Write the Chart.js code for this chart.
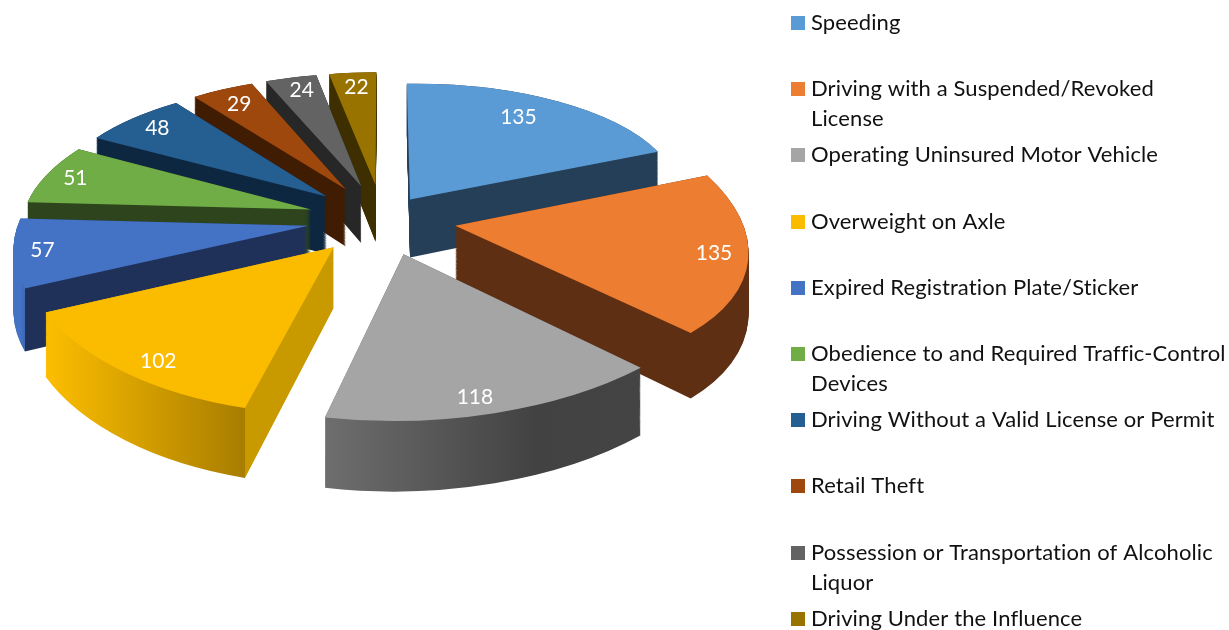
<!DOCTYPE html>
<html>
<head>
<meta charset="utf-8">
<style>html,body{margin:0;padding:0;background:#fff}canvas{display:block}</style>
<script src="https://cdn.jsdelivr.net/npm/chart.js@4"></script>
</head>
<body>
<canvas id="c" width="1229" height="630"></canvas>
<script>
const categories = ["Speeding","Driving with a Suspended/Revoked License","Operating Uninsured Motor Vehicle","Overweight on Axle","Expired Registration Plate/Sticker","Obedience to and Required Traffic-Control Devices","Driving Without a Valid License or Permit","Retail Theft","Possession or Transportation of Alcoholic Liquor","Driving Under the Influence"];
const counts = [135,135,118,102,57,51,48,29,24,22];
const topColors = ["#5b9bd5","#ed7d31","#a5a5a5","#fbbc00","#4472c4","#70ad47","#255e91","#9e480e","#636363","#997300"];
const rimShades = [["#253f59"],["#5f2f13"],["#6e6e6e","#585858","#424242","#444444"],["#fdbe00","#a87d00"],["#4472c4","#3f68b5"],["#2d441c"],["#0e2740"],["#3f1c02"],["#272727"],["#3d2f00"]];
const sideShades = ["#253f59","#5f2f13","#444444","#c99a00","#1f3158","#2d441c","#0e2740","#3f1c02","#272727","#3d2f00"];
const explosions = [0.175,0.255,0.26,0.26,0.26,0.26,0.26,0.26,0.26,0.26];
const labelNudgeX = [-13,6,-10,7,-13,-8,-1,1,2,1];
const labelNudgeY = [3,4,7,9,1,-1,0,2,-1,0];
const camera = {cx:382.5, cy:219, ax:289, ay:136, persp:0.133, depth:59};
const labelRadius = 0.86;
const legendBox = {swatchX:791, swatch:14, textX:811, firstY:23, pitch:66.2, lineH:30, maxW:418};
const labelFont = '21px Lato', legendFont = '22px Lato';

function project(u,v,t){
  const w = 1/(1-camera.persp*v);
  return [camera.cx+camera.ax*u*w, camera.cy+camera.ay*v*w+t*camera.depth*w];
}
function sliceInfo(arc,i){
  const mid=(arc.startAngle+arc.endAngle)/2, e=explosions[i];
  return {mid, eu:e*Math.cos(mid), ev:e*Math.sin(mid)};
}
function applyAffine(ctx,arc,s,t){
  const R=arc.outerRadius, c0=[s.eu,s.ev];
  const cs=Math.cos(arc.startAngle), ss=Math.sin(arc.startAngle), ce=Math.cos(arc.endAngle), se=Math.sin(arc.endAngle);
  const S0=project(c0[0],c0[1],t), S1=project(c0[0]+cs,c0[1]+ss,t), S2=project(c0[0]+ce,c0[1]+se,t);
  const a1=[S1[0]-S0[0],S1[1]-S0[1]], a2=[S2[0]-S0[0],S2[1]-S0[1]];
  const d1=[R*cs,R*ss], d2=[R*ce,R*se];
  const det=d1[0]*d2[1]-d2[0]*d1[1];
  const i11=d2[1]/det,i12=-d2[0]/det,i21=-d1[1]/det,i22=d1[0]/det;
  const a=a1[0]*i11+a2[0]*i21, c=a1[0]*i12+a2[0]*i22, b=a1[1]*i11+a2[1]*i21, d=a1[1]*i12+a2[1]*i22;
  const e=S0[0]-a*arc.x-c*arc.y, f=S0[1]-b*arc.x-d*arc.y;
  ctx.transform(a,b,c,d,e,f);
}
function paint(ctx,arc,color){
  const o=arc.options, tmp=Object.create(o);
  tmp.backgroundColor=color; tmp.borderWidth=0;
  arc.options=tmp; arc.draw(ctx); arc.options=o;
}
const pie3d={
  id:'pie3d',
  beforeDatasetsDraw(chart){
    const ctx=chart.ctx, W=chart.width, H=chart.height;
    const arcs=chart.getDatasetMeta(0).data;
    const order=arcs.map((a,i)=>{
      const s=sliceInfo(a,i);
      return {a,i,s,key:s.ev+0.6*Math.sin(s.mid)};
    }).sort((p,q)=>p.key-q.key);
    for(const {a,i,s} of order){
      const off=document.createElement('canvas'); off.width=W; off.height=H;
      const oc=off.getContext('2d');
      const N=70;
      for(let k=N;k>=0;k--){
        oc.save(); applyAffine(oc,a,s,k/N); paint(oc,a,'#000'); oc.restore();
      }
      const p1=project(s.eu+Math.cos(a.startAngle),s.ev+Math.sin(a.startAngle),1);
      const p2=project(s.eu+Math.cos(a.endAngle),s.ev+Math.sin(a.endAngle),1);
      const xL=Math.max(0,Math.min(p1[0],p2[0])), xR=Math.min(W,Math.max(p1[0],p2[0]));
      const g=oc.createLinearGradient(0,0,W,0), rim=rimShades[i];
      rim.forEach((c,n)=>g.addColorStop((xL+(xR-xL)*(rim.length>1?n/(rim.length-1):0))/W,c));
      g.addColorStop(xR/W,rim[rim.length-1]);
      g.addColorStop(Math.min(1,xR/W+0.0005),sideShades[i]);
      g.addColorStop(1,sideShades[i]);
      oc.globalCompositeOperation='source-atop';
      oc.fillStyle=g; oc.fillRect(0,0,W,H);
      ctx.drawImage(off,0,0);
      ctx.save(); applyAffine(ctx,a,s,0); paint(ctx,a,topColors[i]); ctx.restore();
    }
    return false;
  },
  afterDraw(chart){
    const ctx=chart.ctx, arcs=chart.getDatasetMeta(0).data;
    ctx.save();
    ctx.fillStyle='#fff'; ctx.font=labelFont; ctx.textAlign='center'; ctx.textBaseline='middle';
    arcs.forEach((a,i)=>{
      const s=sliceInfo(a,i);
      const p=project(s.eu+labelRadius*Math.cos(s.mid),s.ev+labelRadius*Math.sin(s.mid),0);
      ctx.fillText(String(counts[i]),p[0]+labelNudgeX[i],p[1]+labelNudgeY[i]);
    });
    ctx.textAlign='left'; ctx.font=legendFont; ctx.letterSpacing='0.12px';
    categories.forEach((name,i)=>{
      const y=legendBox.firstY+i*legendBox.pitch;
      ctx.fillStyle=topColors[i];
      ctx.fillRect(legendBox.swatchX,Math.round(y-legendBox.swatch/2),legendBox.swatch,legendBox.swatch);
      ctx.fillStyle='#111';
      let line='',ly=y;
      for(const word of name.split(' ')){
        const t=line?line+' '+word:word;
        if(line && ctx.measureText(t).width>legendBox.maxW){ctx.fillText(line,legendBox.textX,ly);ly+=legendBox.lineH;line=word;}
        else line=t;
      }
      ctx.fillText(line,legendBox.textX,ly);
    });
    ctx.restore();
  }
};
new Chart(document.getElementById('c'),{
  type:'pie',
  data:{labels:categories,datasets:[{data:counts,backgroundColor:topColors,borderWidth:0}]},
  options:{responsive:false,animation:false,devicePixelRatio:1,
    plugins:{legend:{display:false},tooltip:{enabled:false}}},
  plugins:[pie3d]
});
</script>
</body>
</html>
